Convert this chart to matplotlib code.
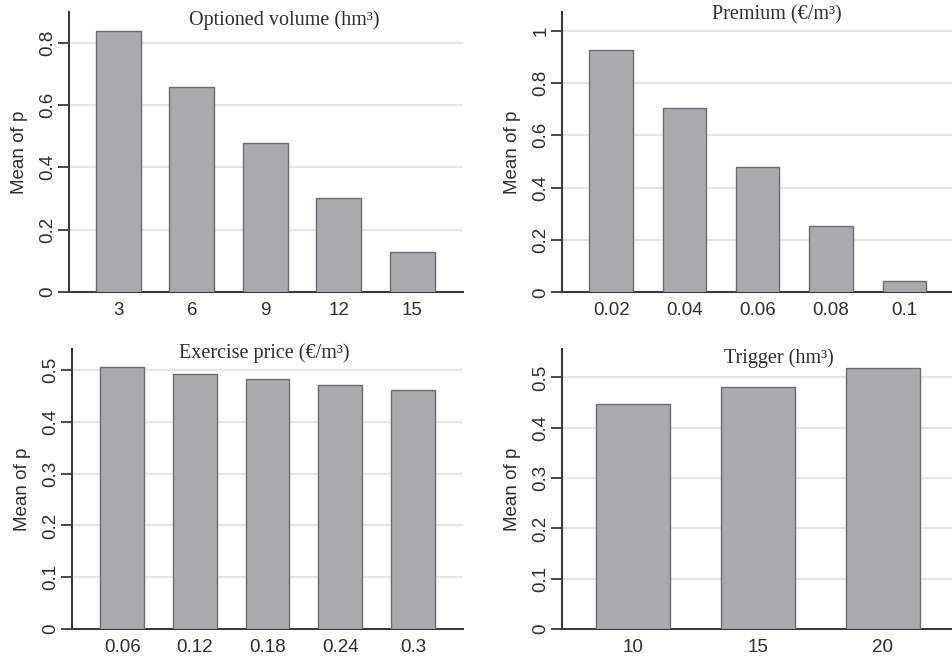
import matplotlib
matplotlib.use("Agg")
import matplotlib.pyplot as plt

# Mean response by attribute level
volume_levels = ["3", "6", "9", "12", "15"]
volume_means = [0.838, 0.659, 0.479, 0.302, 0.127]

premium_levels = ["0.02", "0.04", "0.06", "0.08", "0.1"]
premium_means = [0.926, 0.704, 0.478, 0.255, 0.042]

exercise_levels = ["0.06", "0.12", "0.18", "0.24", "0.3"]
exercise_means = [0.505, 0.493, 0.482, 0.472, 0.461]

trigger_levels = ["10", "15", "20"]
trigger_means = [0.447, 0.481, 0.519]

W, H = 952, 658
fig = plt.figure(figsize=(W / 100, H / 100), dpi=100)
fig.patch.set_facecolor("white")

SANS = ["Liberation Sans", "DejaVu Sans"]
SERIF = ["Liberation Serif", "DejaVu Serif"]
TXT = "#2e2e2e"
BAR = "#a9aaae"
EDGE = "#6c6c6c"
GRID = "#e6e6e6"
SPINE = "#3a3a3a"


def px_axes(left, top, right, bottom):
    return fig.add_axes([left / W, 1 - bottom / H, (right - left) / W, (bottom - top) / H])


def panel(box, levels, means, xlim, ylim, yticks, ylabels, width, title, title_xy):
    ax = px_axes(*box)
    x = list(range(len(levels)))
    ax.bar(x, means, width=width, color=BAR, edgecolor=EDGE, linewidth=1.0, zorder=3)
    ax.set_xlim(*xlim)
    ax.set_ylim(*ylim)
    ax.set_xticks(x)
    ax.set_xticklabels(levels, fontfamily=SANS, fontsize=13.5, color=TXT)
    ax.set_yticks(yticks)
    ax.set_yticklabels(ylabels, fontfamily=SANS, fontsize=13.5, color=TXT,
                       rotation=90, va="center")
    ax.tick_params(axis="x", length=0, pad=7)
    ax.tick_params(axis="y", length=8, width=1.3, color=SPINE, pad=1)
    for t in yticks:
        if t > 0:
            ax.axhline(t, color=GRID, linewidth=1.5, zorder=1)
    for s in ["top", "right"]:
        ax.spines[s].set_visible(False)
    for s in ["left", "bottom"]:
        ax.spines[s].set_color(SPINE)
        ax.spines[s].set_linewidth(1.5)
    ax.set_ylabel("Mean of p", fontfamily=SANS, fontsize=13.5, color=TXT, labelpad=8)
    fig.text(title_xy[0] / W, 1 - title_xy[1] / H, title, fontfamily=SERIF,
             fontsize=14.5, color=TXT, ha="center", va="center")
    return ax


panel((69, 11.7, 463, 292), volume_levels, volume_means,
      (-0.67, 4.69), (0, 0.9), [0, 0.2, 0.4, 0.6, 0.8],
      ["0", "0.2", "0.4", "0.6", "0.8"], 0.61,
      "Optioned volume (hm³)", (284, 20))

panel((562, 11.7, 955, 292.3), premium_levels, premium_means,
      (-0.67, 4.69), (0, 1.072), [0, 0.2, 0.4, 0.6, 0.8, 1.0],
      ["0", "0.2", "0.4", "0.6", "0.8", "1"], 0.59,
      "Premium (€/m³)", (776.5, 15))

panel((72, 349.3, 463, 629), exercise_levels, exercise_means,
      (-0.69, 4.69), (0, 0.54), [0, 0.1, 0.2, 0.3, 0.4, 0.5],
      ["0", "0.1", "0.2", "0.3", "0.4", "0.5"], 0.6,
      "Exercise price (€/m³)", (264.5, 352.7))

panel((561.7, 349.3, 958, 629), trigger_levels, trigger_means,
      (-0.57, 2.6), (0, 0.556), [0, 0.1, 0.2, 0.3, 0.4, 0.5],
      ["0", "0.1", "0.2", "0.3", "0.4", "0.5"], 0.59,
      "Trigger (hm³)", (779, 358))

fig.savefig("out.png", dpi=100, facecolor="white")
